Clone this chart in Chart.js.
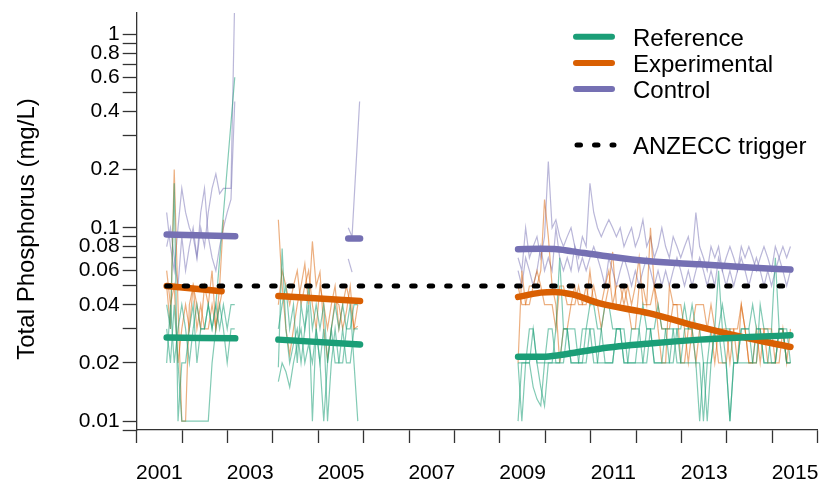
<!DOCTYPE html>
<html>
<head>
<meta charset="utf-8">
<script src="https://cdn.jsdelivr.net/npm/chart.js@4.4.0/dist/chart.umd.min.js"></script>
<style>
  body { margin: 0; background: #fff; }
</style>
</head>
<body>
<canvas id="tp_chart" width="822" height="484"></canvas>
<script>
// ---- data (decimal years, mg/L) ----
// thin site lines are monthly samples from the start year of each period
var p1_start = 2001.66;
var p2_start = 2004.12;
var p2_ctrl_start = 2005.66;
var p3_start = 2009.40;

var ref_p1_a = [0.04, 0.03, 0.17, 0.01, 0.02, 0.02, 0.03, 0.04, 0.02, 0.03, 0.03, 0.04, 0.03, 0.04, null, null, null, null, 0.6];
var ref_p1_b = [0.03, 0.02, 0.04, 0.02, 0.01, 0.01, 0.01, 0.01, 0.01, 0.01, 0.01, 0.01, 0.02, 0.03, 0.04, 0.03, 0.02, 0.03, 0.03];
var ref_p1_c = [0.02, 0.04, 0.02, 0.03, 0.04, 0.03, 0.02, 0.03, 0.04, 0.03, 0.03, 0.04, 0.03, 0.04, 0.03, 0.04, 0.03, 0.04, 0.04];
var exp_p1_a = [0.05, 0.03, 0.2, 0.04, 0.01, 0.01, 0.04, 0.05, 0.03, 0.04, 0.03, 0.03, 0.04, 0.03, 0.05, 0.11];
var exp_p1_b = [0.06, 0.04, 0.05, 0.02, 0.03, 0.04, 0.03, 0.05, 0.04, 0.03, 0.05, 0.04, 0.06, 0.03, 0.04, 0.05];
var ctrl_p1_a = [0.12, 0.08, 0.06, 0.1, 0.16, 0.12, 0.1, 0.09, 0.07, 0.1, 0.08, 0.12, 0.16, 0.19, 0.15, 0.16, 0.16, 0.16, 1.6];
var ctrl_p1_b = [0.08, 0.1, 0.07, 0.05, 0.09, 0.06, 0.08, 0.1, 0.07, 0.12, 0.16, 0.09, 0.07, 0.06, 0.08, 0.1, 0.12, 0.14, 0.45];

var ref_p2_a = [0.019, 0.078, 0.03, 0.02, 0.025, 0.03, 0.02, 0.03, 0.04, 0.01, 0.03, 0.02, 0.03, 0.01, 0.02, 0.03, 0.02, 0.02, 0.03, 0.04, 0.02, 0.01];
var ref_p2_b = [0.016, 0.02, 0.018, 0.015, 0.02, 0.025, 0.03, 0.02, 0.025, 0.02, 0.03, 0.02, 0.01, 0.02, 0.03, 0.02, 0.02, 0.03, 0.02, 0.02, 0.03, 0.03];
var ref_p2_c = [0.03, 0.04, 0.05, 0.03, 0.04, 0.02, 0.04, 0.03, 0.05, 0.03, 0.04, 0.03, 0.04, 0.02, 0.03, 0.04, 0.03, 0.04, 0.03, 0.03, 0.04, 0.04];
var exp_p2_a = [0.11, 0.05, 0.03, 0.022, 0.03, 0.04, 0.05, 0.065, 0.04, 0.085, 0.05, 0.059, 0.03, 0.021, 0.03, 0.042, 0.04, 0.03, 0.037, 0.05, 0.03, 0.031];
var exp_p2_b = [0.04, 0.06, 0.05, 0.04, 0.05, 0.06, 0.04, 0.05, 0.06, 0.04, 0.03, 0.05, 0.04, 0.03, 0.04, 0.05, 0.03, 0.04, 0.05, 0.04, 0.03, 0.04];
var ctrl_p2_a = [0.1, 0.09, null, 0.45];
var ctrl_p2_b = [0.069, 0.059];

var ref_p3_a = [0.02, 0.01, 0.02, 0.02, 0.03, 0.02, 0.015, 0.012, 0.02, 0.02,
                0.03, 0.07, 0.03, 0.03, 0.02, 0.02, 0.02, 0.03, 0.03, 0.03,
                0.02, 0.02, 0.03, 0.04, 0.04, 0.03, 0.03, 0.03, 0.02, 0.02,
                0.03, 0.03, 0.03, 0.02, 0.02, 0.03, 0.03, 0.04, 0.03, 0.03,
                0.02, 0.02, 0.03, 0.03, 0.04, 0.03, 0.03, 0.02, 0.02, 0.01,
                0.02, 0.03, 0.03, 0.06, 0.03, 0.02, 0.01, 0.02, 0.02, 0.03,
                0.03, 0.03, 0.04, 0.03, 0.03, 0.02, 0.02, 0.03, 0.07, 0.03,
                0.03, 0.02, 0.02];
var ref_p3_b = [0.02, 0.02, 0.02, 0.03, 0.03, 0.02, 0.02, 0.02, 0.03, 0.03,
                0.02, 0.02, 0.02, 0.03, 0.03, 0.03, 0.02, 0.02, 0.03, 0.04,
                0.04, 0.03, 0.03, 0.02, 0.02, 0.02, 0.03, 0.03, 0.03, 0.02,
                0.02, 0.02, 0.03, 0.04, 0.03, 0.03, 0.02, 0.02, 0.02, 0.03,
                0.03, 0.03, 0.02, 0.02, 0.03, 0.03, 0.04, 0.03, 0.03, 0.02,
                0.01, 0.02, 0.03, 0.03, 0.04, 0.03, 0.03, 0.02, 0.02, 0.03,
                0.03, 0.03, 0.02, 0.02, 0.04, 0.03, 0.03, 0.02, 0.02, 0.03,
                0.03, 0.03, 0.02];
var ref_p3_c = [0.01, 0.02, 0.02, 0.02, 0.015, 0.013, 0.012, 0.02, 0.02, 0.02,
                0.02, 0.02, 0.03, 0.03, 0.02, 0.02, 0.02, 0.02, 0.02, 0.03,
                0.03, 0.02, 0.02, 0.02, 0.02, 0.02, 0.03, 0.03, 0.02, 0.02,
                0.02, 0.02, 0.02, 0.02, 0.03, 0.03, 0.02, 0.02, 0.02, 0.02,
                0.02, 0.03, 0.03, 0.02, 0.02, 0.02, 0.02, 0.02, 0.01, 0.02,
                0.02, 0.02, 0.03, 0.03, 0.02, 0.02, 0.01, 0.02, 0.02, 0.02,
                0.02, 0.02, 0.02, 0.03, 0.03, 0.02, 0.02, 0.02, 0.02, 0.03,
                0.03, 0.02, 0.02];
var exp_p3_a = [0.02, 0.06, 0.04, 0.04, 0.05, 0.05, 0.06, 0.14, 0.09, 0.05,
                0.04, 0.02, 0.03, 0.03, 0.04, 0.04, 0.05, 0.04, 0.04, 0.06,
                0.04, 0.04, 0.03, 0.04, 0.05, 0.075, 0.04, 0.04, 0.05, 0.04,
                0.03, 0.03, 0.05, 0.05, 0.04, 0.1, 0.05, 0.03, 0.02, 0.02,
                0.05, 0.04, 0.04, 0.02, 0.02, 0.03, 0.03, 0.02, 0.03, 0.03,
                0.03, 0.04, 0.03, 0.02, 0.02, 0.02, 0.03, 0.03, 0.02, 0.04,
                0.03, 0.02, 0.02, 0.02, 0.03, 0.03, 0.02, 0.02, 0.02, 0.03,
                0.03, 0.02, 0.02];
var exp_p3_b = [0.05, 0.04, 0.04, 0.05, 0.05, 0.06, 0.05, 0.04, 0.04, 0.04,
                0.03, 0.05, 0.05, 0.04, 0.04, 0.05, 0.04, 0.04, 0.05, 0.04,
                0.05, 0.04, 0.04, 0.05, 0.06, 0.04, 0.05, 0.05, 0.04, 0.05,
                0.04, 0.05, 0.07, 0.04, 0.04, 0.04, 0.05, 0.04, 0.03, 0.03,
                0.03, 0.04, 0.04, 0.04, 0.03, 0.02, 0.03, 0.04, 0.04, 0.04,
                0.03, 0.03, 0.02, 0.03, 0.03, 0.03, 0.02, 0.03, 0.03, 0.04,
                0.03, 0.02, 0.02, 0.03, 0.02, 0.03, 0.03, 0.03, 0.02, 0.02,
                0.03, 0.02, 0.03];
var ctrl_p3_a = [0.07, 0.06, 0.1, 0.07, 0.08, 0.09, 0.07, 0.09, 0.22, 0.1,
                 0.11, 0.09, 0.08, 0.09, 0.1, 0.08, 0.07, 0.09, 0.08, 0.17,
                 0.12, 0.1, 0.09, 0.1, 0.11, 0.1, 0.09, 0.1, 0.08, 0.09,
                 0.1, 0.08, 0.09, 0.11, 0.08, 0.09, 0.07, 0.08, 0.1, 0.08,
                 0.07, 0.09, 0.08, 0.07, 0.08, 0.09, 0.07, 0.12, 0.08, 0.07,
                 0.06, 0.08, 0.07, 0.08, 0.06, 0.07, 0.08, 0.07, 0.06, 0.08,
                 0.07, 0.08, 0.07, 0.06, 0.07, 0.08, 0.07, 0.06, 0.08, 0.07,
                 0.08, 0.07, 0.08];
var ctrl_p3_b = [0.06, 0.05, 0.07, 0.06, 0.05, 0.06, 0.08, 0.06, 0.07, 0.06,
                 0.1, 0.07, 0.06, 0.07, 0.06, 0.08, 0.06, 0.07, 0.06, 0.07,
                 0.08, 0.07, 0.06, 0.05, 0.07, 0.06, 0.05, 0.06, 0.07, 0.06,
                 0.05, 0.06, 0.05, 0.06, 0.07, 0.06, 0.05, 0.06, 0.05, 0.06,
                 0.05, 0.06, 0.07, 0.06, 0.05, 0.06, 0.05, 0.06, 0.07, 0.06,
                 0.05, 0.06, 0.05, 0.07, 0.06, 0.05, 0.06, 0.05, 0.06, 0.07,
                 0.06, 0.05, 0.06, 0.07, 0.06, 0.05, 0.06, 0.05, 0.06, 0.07,
                 0.06, 0.05, 0.06];

// fitted trends per group and period
var ref_trend_p1_years = [2001.66, 2003.17];
var ref_trend_p1 = [0.0271, 0.0268];
var exp_trend_p1_years = [2001.66, 2002.87];
var exp_trend_p1 = [0.050, 0.047];
var ctrl_trend_p1_years = [2001.66, 2003.17];
var ctrl_trend_p1 = [0.0923, 0.0905];
var ref_trend_p2_years = [2004.12, 2005.92];
var ref_trend_p2 = [0.0264, 0.0249];
var exp_trend_p2_years = [2004.12, 2005.92];
var exp_trend_p2 = [0.0444, 0.0418];
var ctrl_trend_p2_years = [2005.66, 2005.92];
var ctrl_trend_p2 = [0.088, 0.088];
var trend_p3_years = [2009.40, 2009.90, 2010.20, 2010.60, 2011.20, 2012.30, 2013.40, 2014.50, 2015.40];
var ref_trend_p3 = [0.0215, 0.0215, 0.0218, 0.0225, 0.0237, 0.0252, 0.0264, 0.0272, 0.0278];
var exp_trend_p3 = [0.0439, 0.0462, 0.0466, 0.0452, 0.0406, 0.0361, 0.0307, 0.0267, 0.0242];
var ctrl_trend_p3 = [0.0775, 0.0778, 0.0777, 0.0755, 0.0721, 0.0671, 0.0647, 0.0623, 0.0608];

var trigger_years = [2001.66, 2015.25];
var trigger_value = [0.05, 0.05];

var legend_labels = ['Reference', 'Experimental', 'Control'];
var trigger_label = 'ANZECC trigger';
var y_title = 'Total Phosphorus (mg/L)';

var x_tick_years = [2001, 2002, 2003, 2004, 2005, 2006, 2007, 2008, 2009, 2010, 2011, 2012, 2013, 2014, 2015, 2016];
var x_label_years = [2001, 2003, 2005, 2007, 2009, 2011, 2013, 2015];
var y_tick_values = [0.009, 0.01, 0.02, 0.03, 0.04, 0.05, 0.06, 0.07, 0.08, 0.09,
                     0.1, 0.2, 0.3, 0.4, 0.5, 0.6, 0.7, 0.8, 0.9, 1];
var y_tick_labels = ['0.01', '0.02', '0.04', '0.06', '0.08', '0.1', '0.2', '0.4', '0.6', '0.8', '1'];

// ---- styling ----
var col_ref = '#1b9e77', col_exp = '#d95f02', col_ctrl = '#7570b3';
var thin_ref = 'rgba(27, 158, 119, 0.55)';
var thin_exp = 'rgba(217, 95, 2, 0.5)';
var thin_ctrl = 'rgba(117, 112, 179, 0.5)';
var axis_col = '#333333';
var font_family = '"Liberation Sans", Arial, sans-serif';

function monthly(start, values) {
	return values.map(function (v, i) { return {x: start + i / 12, y: v}; });
}

function paired(years, values) {
	return years.map(function (yr, i) { return {x: yr, y: values[i]}; });
}

function thinLine(points, color) {
	return {data: points, borderColor: color, borderWidth: 1.2, pointRadius: 0,
		spanGaps: true, tension: 0, order: 3};
}

function trendLine(points, color) {
	return {data: points, borderColor: color, borderWidth: 6.5, pointRadius: 0,
		borderCapStyle: 'round', borderJoinStyle: 'round',
		cubicInterpolationMode: 'monotone', order: 1};
}

var datasets = [
	thinLine(monthly(p1_start, ref_p1_a), thin_ref),
	thinLine(monthly(p1_start, ref_p1_b), thin_ref),
	thinLine(monthly(p1_start, ref_p1_c), thin_ref),
	thinLine(monthly(p1_start, exp_p1_a), thin_exp),
	thinLine(monthly(p1_start, exp_p1_b), thin_exp),
	thinLine(monthly(p1_start, ctrl_p1_a), thin_ctrl),
	thinLine(monthly(p1_start, ctrl_p1_b), thin_ctrl),
	thinLine(monthly(p2_start, ref_p2_a), thin_ref),
	thinLine(monthly(p2_start, ref_p2_b), thin_ref),
	thinLine(monthly(p2_start, ref_p2_c), thin_ref),
	thinLine(monthly(p2_start, exp_p2_a), thin_exp),
	thinLine(monthly(p2_start, exp_p2_b), thin_exp),
	thinLine(monthly(p2_ctrl_start, ctrl_p2_a), thin_ctrl),
	thinLine(monthly(p2_ctrl_start, ctrl_p2_b), thin_ctrl),
	thinLine(monthly(p3_start, ref_p3_a), thin_ref),
	thinLine(monthly(p3_start, ref_p3_b), thin_ref),
	thinLine(monthly(p3_start, ref_p3_c), thin_ref),
	thinLine(monthly(p3_start, exp_p3_a), thin_exp),
	thinLine(monthly(p3_start, exp_p3_b), thin_exp),
	thinLine(monthly(p3_start, ctrl_p3_a), thin_ctrl),
	thinLine(monthly(p3_start, ctrl_p3_b), thin_ctrl),
	trendLine(paired(ref_trend_p1_years, ref_trend_p1), col_ref),
	trendLine(paired(exp_trend_p1_years, exp_trend_p1), col_exp),
	trendLine(paired(ctrl_trend_p1_years, ctrl_trend_p1), col_ctrl),
	trendLine(paired(ref_trend_p2_years, ref_trend_p2), col_ref),
	trendLine(paired(exp_trend_p2_years, exp_trend_p2), col_exp),
	trendLine(paired(ctrl_trend_p2_years, ctrl_trend_p2), col_ctrl),
	trendLine(paired(trend_p3_years, ref_trend_p3), col_ref),
	trendLine(paired(trend_p3_years, exp_trend_p3), col_exp),
	trendLine(paired(trend_p3_years, ctrl_trend_p3), col_ctrl),
	{data: paired(trigger_years, trigger_value), borderColor: '#000', borderWidth: 5,
		borderDash: [3.5, 14], borderCapStyle: 'round', pointRadius: 0, order: 0}
];

// legend and y title drawn by hand, placed like the base graphics version
const groupLegend = {
	id: 'groupLegend',
	afterDraw: function (chart) {
		const ctx = chart.ctx;
		const colors = [col_ref, col_exp, col_ctrl];
		ctx.save();
		ctx.lineCap = 'round';
		ctx.font = '24px ' + font_family;
		ctx.fillStyle = '#000';
		ctx.textBaseline = 'alphabetic';
		for (let i = 0; i < legend_labels.length; i++) {
			const y = 36.7 + i * 26.2;
			ctx.strokeStyle = colors[i];
			ctx.lineWidth = 6;
			ctx.beginPath();
			ctx.moveTo(576, y);
			ctx.lineTo(612, y);
			ctx.stroke();
			ctx.fillText(legend_labels[i], 633, y + 8.8);
		}
		const ty = 145;
		ctx.strokeStyle = '#000';
		ctx.lineWidth = 5;
		ctx.setLineDash([3.5, 14]);
		ctx.beginPath();
		ctx.moveTo(577, ty);
		ctx.lineTo(614, ty);
		ctx.stroke();
		ctx.setLineDash([]);
		ctx.fillText(trigger_label, 633, ty + 8.8);

		// y axis title
		ctx.translate(27, 229);
		ctx.rotate(-Math.PI / 2);
		ctx.textAlign = 'center';
		ctx.textBaseline = 'middle';
		ctx.font = '24px ' + font_family;
		ctx.fillText(y_title, 0, 0);
		ctx.restore();
	}
};

const ctx = document.getElementById('tp_chart').getContext('2d');
const tp_chart = new Chart(ctx, {
	type: 'line',
	data: {datasets: datasets},
	options: {
		responsive: false,
		animation: false,
		layout: {padding: {top: 13, right: 4.3, left: 0, bottom: 0}},
		scales: {
			x: {
				type: 'linear',
				min: 2001,
				max: 2016,
				afterFit: function (axis) {
					axis.height = 54;
					axis.paddingLeft = 0;
					axis.paddingRight = 0;
				},
				afterBuildTicks: function (axis) {
					var t = [];
					x_tick_years.forEach(function (yr) {
						t.push({value: yr});
						if (yr < 2016) t.push({value: yr + 0.5});
					});
					axis.ticks = t;
				},
				grid: {
					drawOnChartArea: false,
					drawTicks: true,
					tickLength: 13,
					tickWidth: 1.3,
					tickColor: function (c) {
						if (c.tick && Number.isInteger(c.tick.value)) return axis_col;
						return 'rgba(0,0,0,0)';
					}
				},
				border: {display: true, color: axis_col, width: 1.3},
				ticks: {
					autoSkip: false,
					maxRotation: 0,
					padding: 18,
					color: '#000',
					font: {family: font_family, size: 21},
					callback: function (value) {
						var yr = value - 0.5;
						if (x_label_years.indexOf(yr) >= 0) return String(yr);
						return '';
					}
				}
			},
			y: {
				type: 'logarithmic',
				min: 0.009,
				max: 1.29,
				afterFit: function (axis) {
					axis.width = 136.7;
					axis.paddingTop = 0;
					axis.paddingBottom = 0;
				},
				afterBuildTicks: function (axis) {
					axis.ticks = y_tick_values.map(function (v) { return {value: v}; });
				},
				grid: {
					drawOnChartArea: false,
					drawTicks: true,
					tickLength: 14,
					tickWidth: 1.3,
					tickColor: axis_col
				},
				border: {display: true, color: axis_col, width: 1.3},
				ticks: {
					autoSkip: false,
					padding: 3,
					color: '#000',
					font: {family: font_family, size: 21},
					callback: function (value) {
						var s = String(+value.toPrecision(3));
						return y_tick_labels.indexOf(s) >= 0 ? s : '';
					}
				}
			}
		},
		plugins: {
			legend: {display: false},
			tooltip: {enabled: false}
		}
	},
	plugins: [groupLegend]
});
</script>
</body>
</html>
